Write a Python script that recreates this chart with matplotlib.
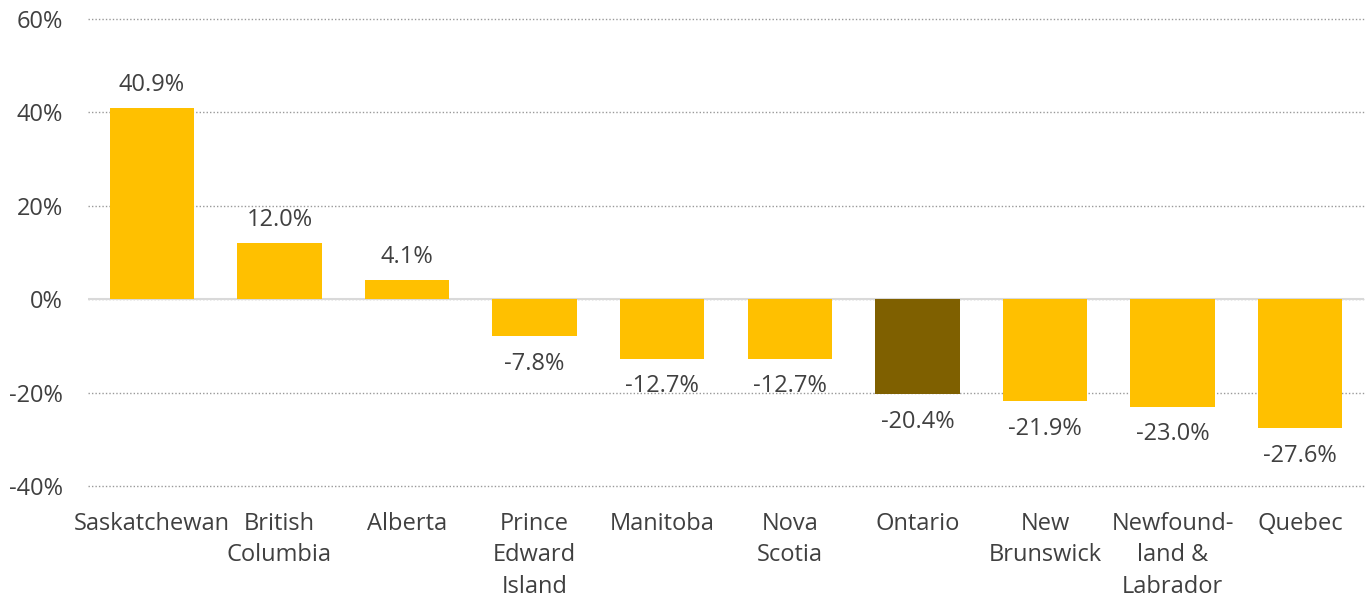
import matplotlib
matplotlib.use("Agg")
import matplotlib.pyplot as plt
from matplotlib.ticker import FuncFormatter

plt.rcParams['font.family'] = ['Open Sans', 'DejaVu Sans']

provinces = ["Saskatchewan", "British\nColumbia", "Alberta", "Prince\nEdward\nIsland",
             "Manitoba", "Nova\nScotia", "Ontario", "New\nBrunswick",
             "Newfound-\nland &\nLabrador", "Quebec"]
values = [40.9, 12.0, 4.1, -7.8, -12.7, -12.7, -20.4, -21.9, -23.0, -27.6]
highlight = "Ontario"

gold = "#FFC000"
dark = "#7F6000"
txt = "#404040"
fs = 17

fig = plt.figure(figsize=(13.67, 5.98), dpi=100)
ax = fig.add_axes([88/1367, 1-486/598, (1364-88)/1367, (486-19)/598])

x = list(range(len(provinces)))
colors = [dark if p == highlight else gold for p in provinces]
ax.bar(x, values, width=0.66, color=colors, zorder=3)

ax.set_xlim(-0.5, len(provinces) - 0.5)
ax.set_ylim(-40, 60)
ax.set_yticks([-40, -20, 0, 20, 40, 60])
ax.yaxis.set_major_formatter(FuncFormatter(lambda v, p: f"{v:.0f}%"))
ax.grid(axis='y', linestyle=(0, (1, 1.5)), color="#999999", linewidth=1, zorder=0)
for gl in ax.get_ygridlines():
    gl.set_clip_on(False)
ax.axhline(0, color="#d9d9d9", linewidth=1.5, zorder=2)

for s in ax.spines.values():
    s.set_visible(False)
ax.tick_params(axis='y', length=0, labelsize=fs, colors=txt, pad=18)
ax.tick_params(axis='x', length=0)
ax.set_xticks(x)
ax.set_xticklabels([])

for xi, lab in zip(x, provinces):
    ax.text(xi, -45.5, lab, ha='center', va='top', fontsize=fs, color=txt,
            linespacing=1.42, clip_on=False)

for xi, v in zip(x, values):
    if v >= 0:
        ax.text(xi, v + 2.3, f"{v:.1f}%", ha='center', va='bottom', fontsize=fs, color=txt)
    else:
        ax.text(xi, v - 3.4, f"{v:.1f}%", ha='center', va='top', fontsize=fs, color=txt)

fig.savefig("out.png", dpi=100)
